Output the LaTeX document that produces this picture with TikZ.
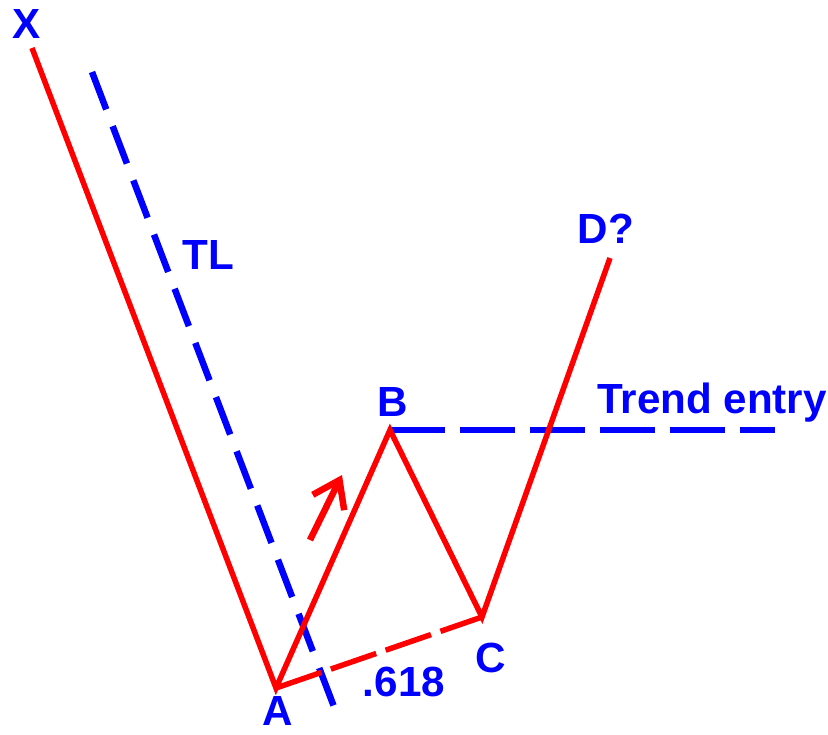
\documentclass[tikz,border=0pt]{standalone}
\usepackage{fontspec}
\setmainfont{Liberation Sans}
\usetikzlibrary{arrows.meta}
\begin{document}
\begin{tikzpicture}[x=0.02cm, y=-0.02cm,
    wave/.style={red, line width=0.11cm},
    wavedash/.style={wave, dash pattern=on 0.96cm off 0.2cm},
    tline/.style={blue, line width=0.13cm, dash pattern=on 0.8cm off 0.36cm},
    entryline/.style={blue, line width=0.13cm, dash pattern=on 1.1cm off 0.3cm},
    lbl/.style={blue, font=\fontsize{24}{28}\selectfont\bfseries, inner sep=0},
]
    \useasboundingbox (0,0) rectangle (828,734);

    \coordinate (X) at (32,48);
    \coordinate (A) at (276,688);
    \coordinate (B) at (390,430);
    \coordinate (C) at (482,617);
    \coordinate (D) at (610,258);
    \coordinate (tltop) at (92,72);
    \coordinate (tlbot) at (336,712);
    \coordinate (entryend) at (775,430);
    \coordinate (upfrom) at (310,540);
    \coordinate (upto) at (342,475);

    \node[lbl] (lX) at (27,24) {X};
    \node[lbl] (lA) at (278,711) {A};
    \node[lbl] (lB) at (393,402) {B};
    \node[lbl] (lC) at (491,658) {C};
    \node[lbl] (lD) at (606,229) {D?};
    \node[lbl] (lTL) at (208,255) {TL};
    \node[lbl] (lentry) at (712,403) {Trend entry};
    \node[lbl] (lratio) at (404,682) {.618};

    \draw[tline] (tltop) -- (tlbot);
    \draw[entryline] (B) -- (entryend);
    \draw[wave] (X) -- (A) -- (B) -- (C) -- (D);
    \draw[wavedash] (A) -- (C);
    \draw[wave, line width=0.13cm, -{Straight Barb[length=0.5cm, width=0.7cm]}] (upfrom) -- (upto);
\end{tikzpicture}
\end{document}
